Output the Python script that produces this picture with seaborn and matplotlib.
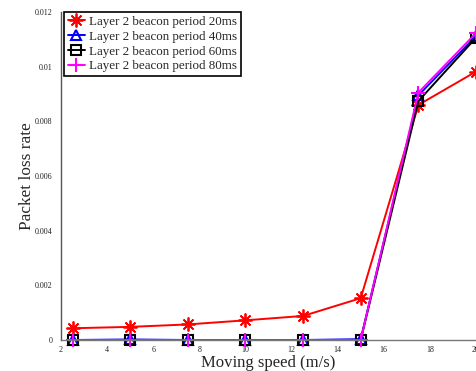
import matplotlib
matplotlib.use("Agg")
import matplotlib.pyplot as plt
import seaborn as sns
import pandas as pd

# Moving speed (m/s) and packet loss rate for each Layer 2 beacon period
speed = [2.5, 5, 7.5, 10, 12.5, 15, 17.5, 20]
loss_20ms = [0.00043, 0.00048, 0.00057, 0.00072, 0.00088, 0.00153, 0.00860, 0.00982]
loss_40ms = [0.0, 0.00002, 0.0, 0.0, 0.0, 0.00003, 0.00895, 0.01112]
loss_60ms = [0.0, 0.0, 0.0, 0.0, 0.0, 0.0, 0.00874, 0.01106]
loss_80ms = [0.0, 0.0, 0.0, 0.0, 0.0, 0.0, 0.00905, 0.01123]

labels = ["Layer 2 beacon period 20ms", "Layer 2 beacon period 40ms",
          "Layer 2 beacon period 60ms", "Layer 2 beacon period 80ms"]
x_ticks = [2, 4, 6, 8, 10, 12, 14, 16, 18, 20]
y_ticks = [0, 0.002, 0.004, 0.006, 0.008, 0.01, 0.012]
y_tick_labels = ["0", "0.002", "0.004", "0.006", "0.008", "0.01", "0.012"]

frames = []
for lab, vals in zip(labels, [loss_20ms, loss_40ms, loss_60ms, loss_80ms]):
    frames.append(pd.DataFrame({"speed": speed, "loss": vals, "series": lab}))
df = pd.concat(frames, ignore_index=True)

sns.set_style("white")
plt.rcParams["font.family"] = ["Liberation Serif", "DejaVu Serif"]

fig = plt.figure(figsize=(4.76, 3.71), dpi=100)
ax = fig.add_axes([61 / 476, 31 / 371, 415 / 476, 328 / 371])

styles = {
    labels[0]: dict(color="#ff0000", marker=(8, 2, 0), ms=10, mfc="#ff0000", mew=1.3),
    labels[1]: dict(color="#0000ff", marker="^", ms=7.5, mfc="none", mew=1.5),
    labels[2]: dict(color="#000000", marker="s", ms=6.5, mfc="none", mew=1.5),
    labels[3]: dict(color="#ff00ff", marker="+", ms=10, mfc="none", mew=1.5),
}

for lab in labels:
    st = styles[lab]
    sns.lineplot(data=df[df["series"] == lab], x="speed", y="loss", ax=ax,
                 color=st["color"], marker=st["marker"], markersize=st["ms"],
                 markerfacecolor=st["mfc"], markeredgecolor=st["color"],
                 markeredgewidth=st["mew"], linewidth=1.4, label=lab,
                 clip_on=False)

ax.set_xlim(2, 20)
ax.set_ylim(0, 0.012)
ax.set_xticks(x_ticks)
ax.set_xticklabels([str(t) for t in x_ticks])
ax.set_yticks(y_ticks)
ax.set_yticklabels(y_tick_labels)
ax.tick_params(axis="both", direction="in", length=4, width=0.8,
               labelsize=5.8, colors="#222222")
ax.tick_params(axis="y", pad=6)
ax.tick_params(axis="x", pad=4)

for side in ["top", "right"]:
    ax.spines[side].set_visible(False)
ax.spines["left"].set_color("#555555")
ax.spines["bottom"].set_color("#777777")
ax.spines["left"].set_linewidth(1.0)
ax.spines["bottom"].set_linewidth(1.0)

ax.set_xlabel("Moving speed (m/s)", fontsize=12, labelpad=1)
ax.set_ylabel("Packet loss rate", fontsize=12.4, labelpad=0)

leg = ax.legend(loc="upper left", bbox_to_anchor=(3 / 415, 1.0),
                fontsize=9.4, frameon=True, fancybox=False,
                edgecolor="black", borderpad=0.3, labelspacing=0.2,
                handlelength=1.3, handletextpad=0.35, borderaxespad=0.0,
                framealpha=1)
leg.get_frame().set_linewidth(1.2)

fig.savefig("out.png", dpi=100)
